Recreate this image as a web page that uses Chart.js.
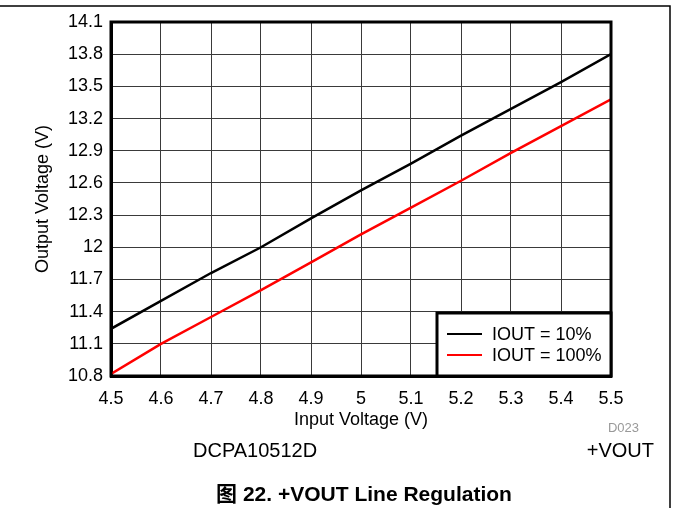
<!DOCTYPE html>
<html>
<head>
<meta charset="utf-8">
<script src="https://cdn.jsdelivr.net/npm/chart.js@4/dist/chart.umd.min.js"></script>
<style>
  html, body { margin: 0; padding: 0; background: #fff; }
  #wrap { position: relative; width: 673px; height: 508px; }
</style>
</head>
<body>
<div id="wrap"><canvas id="chart1" width="673" height="508"></canvas></div>
<script>
// input voltage (V)
const vin = [4.5, 4.6, 4.7, 4.8, 4.9, 5.0, 5.1, 5.2, 5.3, 5.4, 5.5];
// output voltage (V)
const iout10 = [11.24, 11.5, 11.76, 12.0, 12.27, 12.53, 12.78, 13.04, 13.29, 13.54, 13.8];
const iout100 = [10.82, 11.1, 11.35, 11.6, 11.86, 12.12, 12.37, 12.62, 12.88, 13.13, 13.38];
const seriesNames = ["IOUT = 10%", "IOUT = 100%"];
const xTicks = [4.5, 4.6, 4.7, 4.8, 4.9, 5.0, 5.1, 5.2, 5.3, 5.4, 5.5];
const yTicks = [10.8, 11.1, 11.4, 11.7, 12, 12.3, 12.6, 12.9, 13.2, 13.5, 13.8, 14.1];

const FONT = "'Liberation Sans', Arial, sans-serif";

// frame, legend box and the loose texts under the plot
const extras = {
  id: "extras",
  afterDraw(chart) {
    const ctx = chart.ctx;
    const a = chart.chartArea;
    ctx.save();

    // page frame lines
    ctx.strokeStyle = "#000";
    ctx.lineWidth = 1.5;
    ctx.beginPath();
    ctx.moveTo(0, 6); ctx.lineTo(670, 6); ctx.lineTo(670, 508);
    ctx.stroke();

    // plot border
    ctx.lineWidth = 3;
    ctx.strokeRect(a.left, a.top, a.right - a.left, a.bottom - a.top);

    // legend
    const lx = 437, ly = 313;
    ctx.fillStyle = "#fff";
    ctx.fillRect(lx, ly, a.right - lx, a.bottom - ly);
    ctx.lineWidth = 3;
    ctx.strokeRect(lx, ly, a.right - lx, a.bottom - ly);
    ctx.font = "18px " + FONT;
    ctx.textBaseline = "middle";
    chart.data.datasets.forEach((ds, i) => {
      const y = 334 + i * 21;
      ctx.strokeStyle = ds.borderColor;
      ctx.lineWidth = 2;
      ctx.beginPath();
      ctx.moveTo(447, y); ctx.lineTo(482, y);
      ctx.stroke();
      ctx.fillStyle = "#000";
      ctx.textAlign = "left";
      ctx.fillText(ds.label, 492, y + 1);
    });

    ctx.fillStyle = "#999";
    ctx.font = "13px " + FONT;
    ctx.textAlign = "right";
    ctx.fillText("D023", 639, 428);

    ctx.fillStyle = "#000";
    ctx.font = "20px " + FONT;
    ctx.textAlign = "left";
    ctx.fillText("DCPA10512D", 193, 451);
    ctx.textAlign = "right";
    ctx.fillText("+VOUT", 654, 451);

    ctx.font = "bold 21px " + FONT + ", 'Noto Sans CJK SC'";
    ctx.textAlign = "center";
    ctx.fillText("图 22. +VOUT Line Regulation", 364, 495);
    ctx.restore();
  }
};

new Chart(document.getElementById("chart1"), {
  type: "line",
  data: {
    labels: vin,
    datasets: [
      { label: seriesNames[0], data: vin.map((v, i) => ({ x: v, y: iout10[i] })),
        borderColor: "#000", borderWidth: 2.5, pointRadius: 0, tension: 0 },
      { label: seriesNames[1], data: vin.map((v, i) => ({ x: v, y: iout100[i] })),
        borderColor: "#ff0000", borderWidth: 2.5, pointRadius: 0, tension: 0 }
    ]
  },
  options: {
    responsive: false,
    animation: false,
    devicePixelRatio: 1,
    layout: { padding: { left: 0, top: 22, right: 62, bottom: 72 } },
    plugins: { legend: { display: false }, tooltip: { enabled: false } },
    scales: {
      x: {
        type: "linear", min: 4.5, max: 5.5,
        afterBuildTicks: s => { s.ticks = xTicks.map(v => ({ value: v })); },
        afterFit: s => { s.height = 60; },
        grid: { color: "#3a3a3a", lineWidth: 1, tickLength: 0 },
        border: { color: "#000", width: 3 },
        ticks: { color: "#000", font: { family: FONT, size: 18 }, padding: 12, maxRotation: 0,
                 callback: v => String(Math.round(v * 10) / 10) },
        title: { display: true, text: "Input Voltage (V)", color: "#000",
                 font: { family: FONT, size: 18 }, padding: { top: 0, bottom: 5 } }
      },
      y: {
        type: "linear", min: 10.8, max: 14.1,
        afterBuildTicks: s => { s.ticks = yTicks.map(v => ({ value: v })); },
        afterFit: s => { s.width = 111; },
        grid: { color: "#3a3a3a", lineWidth: 1, tickLength: 0 },
        border: { color: "#000", width: 3 },
        ticks: { color: "#000", font: { family: FONT, size: 18 }, padding: 8,
                 callback: v => String(Math.round(v * 10) / 10) },
        title: { display: true, text: "Output Voltage (V)", color: "#000",
                 font: { family: FONT, size: 18 }, padding: { top: 32, bottom: 0 } }
      }
    }
  },
  plugins: [extras]
});
</script>
</body>
</html>
